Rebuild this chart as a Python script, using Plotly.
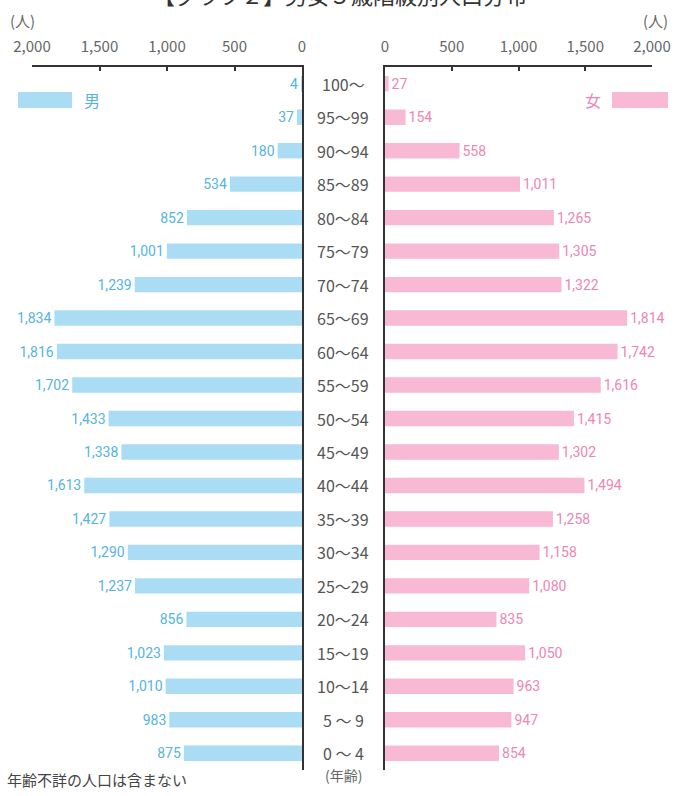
import plotly.graph_objects as go

ages = ["100～", "95～99", "90～94", "85～89", "80～84", "75～79", "70～74",
        "65～69", "60～64", "55～59", "50～54", "45～49", "40～44", "35～39",
        "30～34", "25～29", "20～24", "15～19", "10～14", "5 ～ 9", "0 ～ 4"]
male = [4, 37, 180, 534, 852, 1001, 1239, 1834, 1816, 1702, 1433, 1338, 1613,
        1427, 1290, 1237, 856, 1023, 1010, 983, 875]
female = [27, 154, 558, 1011, 1265, 1305, 1322, 1814, 1742, 1616, 1415, 1302,
          1494, 1258, 1158, 1080, 835, 1050, 963, 947, 854]
tick_vals = [0, 500, 1000, 1500, 2000]
tick_text = ["0", "500", "1,000", "1,500", "2,000"]

BLUE = "#aadcf4"
PINK = "#f7b9d4"
BLUE_TXT = "#55b4e0"
PINK_TXT = "#ee86b4"
FONT = "Noto Sans CJK JP, Noto Sans, sans-serif"
NUMFONT = "Liberation Sans Narrow, Roboto, sans-serif"

W, H = 681, 796

fig = go.Figure()
fig.add_trace(go.Bar(
    y=ages, x=male, orientation="h", xaxis="x", yaxis="y",
    marker=dict(color=BLUE, line=dict(width=0)),
    text=[f"{v:,}" for v in male], textposition="outside", constraintext="none",
    textfont=dict(color=BLUE_TXT, size=14, family=NUMFONT),
    cliponaxis=False, showlegend=False, hoverinfo="skip"))
fig.add_trace(go.Bar(
    y=ages, x=female, orientation="h", xaxis="x2", yaxis="y2",
    marker=dict(color=PINK, line=dict(width=0)),
    text=[f"{v:,}" for v in female], textposition="outside", constraintext="none",
    textfont=dict(color=PINK_TXT, size=14, family=NUMFONT),
    cliponaxis=False, showlegend=False, hoverinfo="skip"))

ydom = [1 - 770 / H, 1 - 67 / H]
axis_common = dict(side="top", showline=True, linecolor="#333", linewidth=1.5,
                   ticks="inside", ticklen=4, tickcolor="#333", tickwidth=1.5,
                   tickvals=tick_vals, ticktext=tick_text, showgrid=False,
                   zeroline=False, automargin=False, ticklabelstandoff=7,
                   tickfont=dict(size=15, color="#666", family=FONT),
                   fixedrange=True)
ycommon = dict(categoryorder="array", categoryarray=ages, autorange=False,
               range=[20.5, -0.5], showticklabels=False, showgrid=False,
               showline=True, linecolor="#333", linewidth=1.5, ticks="",
               domain=ydom, zeroline=False, automargin=False, fixedrange=True)

fig.update_layout(
    width=W, height=H,
    margin=dict(l=0, r=0, t=0, b=0, pad=0),
    paper_bgcolor="white", plot_bgcolor="white",
    bargap=0.54,
    font=dict(family=FONT),
    xaxis=dict(domain=[32 / W, 302 / W], range=[2000, 0], anchor="y", **axis_common),
    xaxis2=dict(domain=[385 / W, 652 / W], range=[0, 2000], anchor="y2", **axis_common),
    yaxis=dict(anchor="x", side="right", **ycommon),
    yaxis2=dict(anchor="x2", side="left", **ycommon),
)


def note(x, y, text, size=14, color="#555", xanchor="center"):
    fig.add_annotation(x=x / W, y=1 - y / H, xref="paper", yref="paper", text=text,
                       xanchor=xanchor, yanchor="middle", showarrow=False,
                       font=dict(size=size, color=color, family=FONT))


# center age labels
for a in ages:
    fig.add_annotation(x=343 / W, xref="paper", y=a, yref="y", text=a,
                       xanchor="center", yanchor="middle",
                       showarrow=False, font=dict(size=16, color="#555", family=FONT))

# units and notes
note(22, 20, "(人)", size=15, color="#666")
note(655, 20, "(人)", size=15, color="#666")
note(343, 775, "(年齢)", color="#666")
note(5, 779, "年齢不詳の人口は含まない", size=15, color="#444", xanchor="left")
# clipped title
note(340, -6, "【グラフ２】男女５歳階級別人口分布", size=22, color="#333")

# legend
fig.add_shape(type="rect", xref="paper", yref="paper",
              x0=18 / W, x1=72 / W, y0=1 - 108 / H, y1=1 - 92 / H,
              fillcolor=BLUE, line=dict(width=0))
note(82, 100, "男", size=16, color=BLUE_TXT, xanchor="left")
fig.add_shape(type="rect", xref="paper", yref="paper",
              x0=612 / W, x1=668 / W, y0=1 - 108 / H, y1=1 - 92 / H,
              fillcolor=PINK, line=dict(width=0))
note(603, 100, "女", size=16, color=PINK_TXT, xanchor="right")

fig.write_html("out.html", config={"displayModeBar": False},
               post_script="document.body.style.margin='0';"
                           "document.body.style.overflow='hidden';")
